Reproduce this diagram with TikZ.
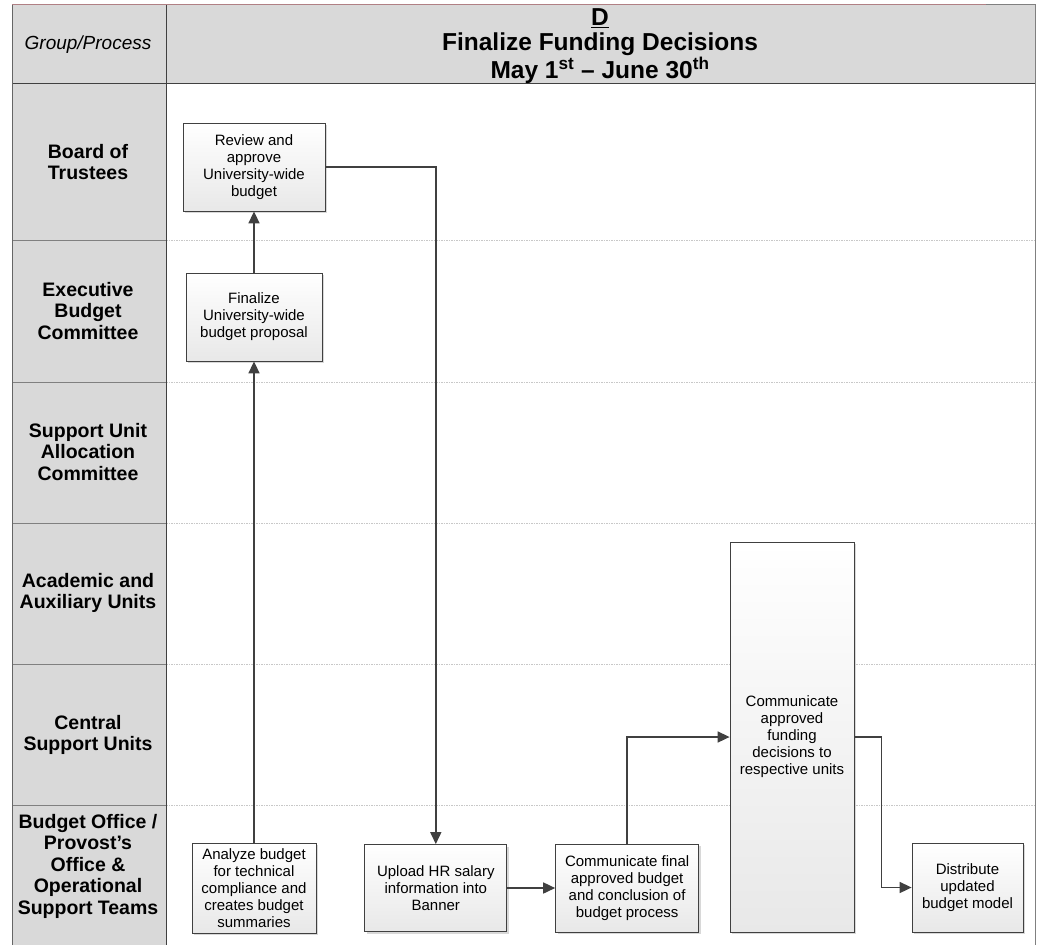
\documentclass[tikz,border=0pt]{standalone}
\usepackage{fontspec}
\setmainfont{Liberation Sans}
\usepackage{tikz}
\usetikzlibrary{arrows.meta,positioning,shadows}

\definecolor{laneGrey}{HTML}{D9D9D9}
\definecolor{lineDark}{HTML}{404040}
\definecolor{sepGrey}{HTML}{C8C8C8}
\definecolor{topRed}{HTML}{B08084}

\begin{document}
\begin{tikzpicture}[x=1pt, y=-1pt,
  taskbox/.style={draw=lineDark, line width=0.8pt, top color=white, bottom color=black!9,
    drop shadow={shadow xshift=2pt, shadow yshift=-2pt, fill=black!30, opacity=0.5},
    align=center, inner sep=2pt, font=\fontsize{15}{17}\selectfont},
  lanelabel/.style={align=center, font=\bfseries\fontsize{19.5}{21.5}\selectfont},
  flow/.style={draw=lineDark, line width=1.6pt, -{Triangle[length=12pt,width=11pt]}},
  lanesep/.style={draw=sepGrey, line width=0.6pt, dash pattern=on 1.5pt off 1pt}]
  \useasboundingbox (0,0) rectangle (1040,945);

  \fill[laneGrey] (12,4) rectangle (1035,83);
  \fill[laneGrey] (12,83) rectangle (166,945);
  \foreach \y in {240,382,523,664,805} {
    \draw[lanesep] (166,\y) -- (1035,\y);
    \draw[gray, line width=0.8pt] (12,\y) -- (166,\y);
  }
  \draw[lineDark, line width=1pt] (12,83) -- (1035,83);
  \draw[gray!80!black, line width=0.8pt] (12,4) -- (12,945);
  \draw[lineDark, line width=1pt] (166,4) -- (166,945);
  \draw[gray, line width=1pt] (1035,4) -- (1035,945);
  \draw[topRed, line width=1pt] (12,4) -- (986,4);
  \draw[gray, line width=1pt] (986,4) -- (1035,4);

  \node[font=\itshape\fontsize{19}{22}\selectfont] (grp) at (88,45) {Group/Process};
  \node[align=center, font=\bfseries\fontsize{24.5}{25}\selectfont] (title) at (600,46)
    {\underline{D}\\Finalize Funding Decisions\\May 1\textsuperscript{st} -- June 30\textsuperscript{th}};

  \node[lanelabel] (board) at (88,162) {Board of\\Trustees};
  \node[lanelabel] (exec) at (88,311) {Executive\\Budget\\Committee};
  \node[lanelabel] (sualloc) at (88,452) {Support Unit\\Allocation\\Committee};
  \node[lanelabel] (acad) at (88,593) {Academic and\\Auxiliary Units};
  \node[lanelabel] (central) at (88,735) {Central\\Support Units};
  \node[lanelabel] (budgetoffice) at (88,866) {Budget Office /\\Provost’s\\Office \&\\Operational\\Support Teams};

  \node[taskbox, minimum width=142pt, minimum height=88pt] (review) at (254,167)
    {Review and\\approve\\University-wide\\budget};
  \node[taskbox, minimum width=136pt, minimum height=88pt] (finalize) at (254,317)
    {Finalize\\University-wide\\budget proposal};
  \node[taskbox, minimum width=124pt, minimum height=90pt] (analyze) at (254,888)
    {Analyze budget\\for technical\\compliance and\\creates budget\\summaries};
  \node[taskbox, minimum width=142pt, minimum height=87pt, right=48pt of analyze] (upload)
    {Upload HR salary\\information into\\Banner};
  \node[taskbox, minimum width=143pt, minimum height=88pt, right=48pt of upload] (commfinal)
    {Communicate final\\approved budget\\and conclusion of\\budget process};
  \node[taskbox, minimum width=124pt, minimum height=390pt] (communits) at (792,737)
    {Communicate\\approved\\funding\\decisions to\\respective units};
  \node[taskbox, minimum width=111pt, minimum height=89pt] (distribute) at (967.5,887.5)
    {Distribute\\updated\\budget model};

  \draw[flow] (analyze.north) -- (finalize.south);
  \draw[flow] (finalize.north) -- (review.south);
  \draw[flow] (review.east) -| (upload.north);
  \draw[flow] (upload.east) -- (commfinal.west);
  \draw[flow] (commfinal.north) |- (communits.west);
  \draw[flow] (communits.east) -- ++(27,0) |- (distribute.west);
\end{tikzpicture}
\end{document}
